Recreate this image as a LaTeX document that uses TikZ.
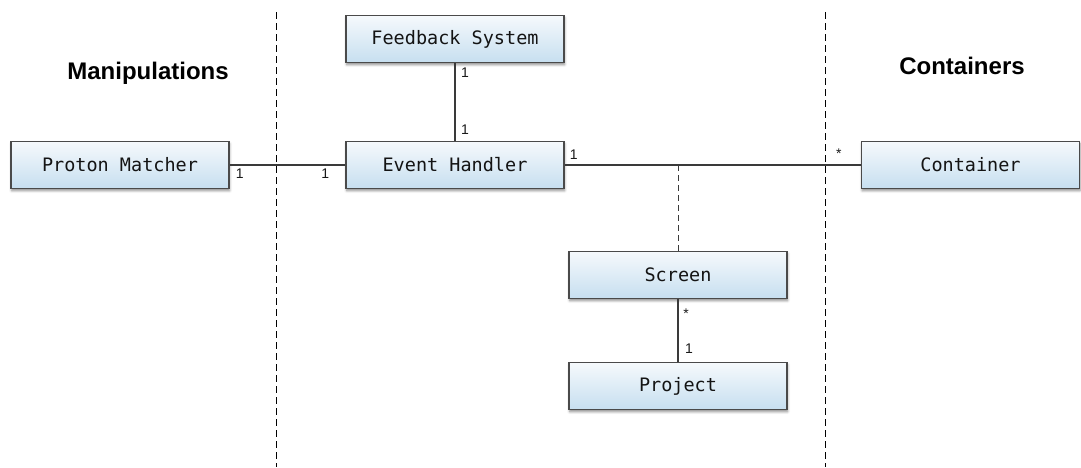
\documentclass[tikz,border=0pt]{standalone}
\usepackage{fontspec}
\setmainfont{Liberation Sans}
\newfontfamily\boxfont{DejaVu Sans Mono}
\usetikzlibrary{shadows.blur}
\definecolor{boxtop}{HTML}{F6F9FC}
\definecolor{boxbottom}{HTML}{C6DFF0}
\definecolor{edge}{HTML}{4A4A4A}
\definecolor{wire}{HTML}{3A3A3A}
\tikzset{
  classbox/.style={draw=edge, line width=1.3pt, rectangle,
    top color=boxtop, bottom color=boxbottom,
    minimum width=218pt, minimum height=47pt, inner sep=0pt,
    font=\boxfont\fontsize{18.5}{21}\selectfont, text=black!92,
    blur shadow={shadow xshift=0.6pt, shadow yshift=-2.2pt,
      shadow blur radius=2.5pt, shadow opacity=45}},
  assoc/.style={draw=wire, line width=1.4pt},
  divider/.style={draw=black, line width=1pt, dash pattern=on 7pt off 4pt},
  mult/.style={font=\fontsize{14}{16}\selectfont, inner sep=0pt, text=black!90},
  heading/.style={font=\bfseries\fontsize{24}{28}\selectfont, inner sep=0pt}
}
\begin{document}
\begin{tikzpicture}[x=1pt, y=-1pt]
  \useasboundingbox (0,0) rectangle (1081,467);

  % column dividers
  \coordinate (d1t) at (276,12);
  \coordinate (d1b) at (276,467);
  \coordinate (d2t) at (825,12);
  \coordinate (d2b) at (825,467);
  \draw[divider] (d1t) -- (d1b);
  \draw[divider] (d2t) -- (d2b);

  % column headings
  \node[heading] (hman) at (148,73) {Manipulations};
  \node[heading] (hcon) at (962,66) {Containers};

  % classes
  \node[classbox] (fb)  at (455,39)  {Feedback System};
  \node[classbox] (eh)  at (455,165) {Event Handler};
  \node[classbox] (pm)  at (120,165) {Proton Matcher};
  \node[classbox] (ct)  at (970.5,165) {Container};
  \node[classbox] (scr) at (678,275) {Screen};
  \node[classbox] (prj) at (678,386) {Project};

  % associations
  \draw[assoc] (pm.east) -- (eh.west);
  \draw[assoc] (fb.south) -- (eh.north);
  \draw[assoc] (eh.east) -- (ct.west);
  \draw[assoc] (scr.south) -- (prj.north);

  % association class link
  \coordinate (jn) at (scr.north |- eh.east);
  \draw[wire, line width=1pt, dash pattern=on 6pt off 4pt] (jn) -- (scr.north);

  % multiplicities
  \node[mult] (m1) at ([shift={(10,9)}]pm.east) {1};
  \node[mult] (m2) at ([shift={(-20,9)}]eh.west) {1};
  \node[mult] (m3) at ([shift={(10,10)}]fb.south) {1};
  \node[mult] (m4) at ([shift={(10,-11)}]eh.north) {1};
  \node[mult] (m5) at ([shift={(9,-10)}]eh.east) {1};
  \node[mult] (m6) at ([shift={(-22,-11)}]ct.west) {*};
  \node[mult] (m7) at ([shift={(8,15)}]scr.south) {*};
  \node[mult] (m8) at ([shift={(11,-13)}]prj.north) {1};
\end{tikzpicture}
\end{document}
